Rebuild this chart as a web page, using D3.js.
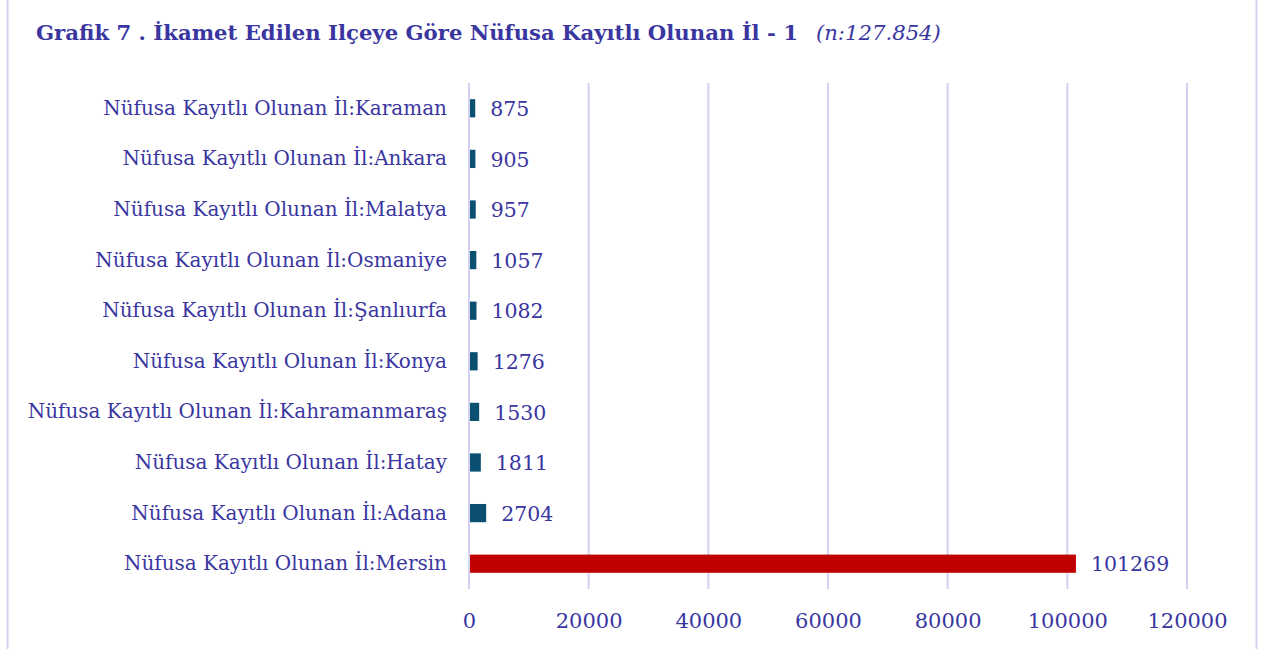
<!DOCTYPE html>
<html>
<head>
<meta charset="utf-8">
<script src="https://cdn.jsdelivr.net/npm/d3@7"></script>
<style>
  body { margin: 0; background: #fff; }
  text { font-family: "DejaVu Serif", "Liberation Serif", serif; fill: #3a369f; }
</style>
</head>
<body>
<div class="chart"></div>
<script>
var svgWidth = 1268;
var svgHeight = 649;

// data (top to bottom)
var provinces = ["Karaman", "Ankara", "Malatya", "Osmaniye", "Şanlıurfa",
  "Konya", "Kahramanmaraş", "Hatay", "Adana", "Mersin"];
var counts = [875, 905, 957, 1057, 1082, 1276, 1530, 1811, 2704, 101269];
var xTicks = [0, 20000, 40000, 60000, 80000, 100000, 120000];

var labelPrefix = "Nüfusa Kayıtlı Olunan İl:";

var margin = { top: 83, right: 81, bottom: 60, left: 469 };
var width = 1187 - margin.left;   // 0..120000
var height = 589 - margin.top;

var svg = d3.select(".chart")
  .append("svg")
  .attr("width", svgWidth)
  .attr("height", svgHeight);

// outer frame
svg.append("rect")
  .attr("x", 7.5)
  .attr("y", -1)
  .attr("width", 1249)
  .attr("height", svgHeight + 5)
  .attr("fill", "none")
  .attr("stroke", "#d3d2f0")
  .attr("stroke-width", 2);

// title
var title = svg.append("text")
  .attr("x", 36)
  .attr("y", 40)
  .style("font-size", "21.2px");
title.append("tspan")
  .style("font-weight", "bold")
  .text("Grafik 7 . İkamet Edilen Ilçeye Göre Nüfusa Kayıtlı Olunan İl - 1");
title.append("tspan")
  .attr("dx", 18)
  .style("font-style", "italic")
  .style("font-weight", "normal")
  .text("(n:127.854)");

var chartGroup = svg.append("g")
  .attr("transform", `translate(${margin.left}, ${margin.top})`);

var xScale = d3.scaleLinear()
  .domain([0, 120000])
  .range([0, width]);

var yScale = d3.scaleBand()
  .domain(provinces)
  .range([0, height])
  .paddingInner(0.64)
  .paddingOuter(0.32);

// gridlines
chartGroup.append("g")
  .selectAll("line")
  .data(xTicks)
  .enter()
  .append("line")
  .attr("x1", d => xScale(d))
  .attr("x2", d => xScale(d))
  .attr("y1", 0)
  .attr("y2", height)
  .attr("stroke", "#d3d2f0")
  .attr("stroke-width", 2);

// x axis tick labels
var bottomAxis = d3.axisBottom(xScale)
  .tickValues(xTicks)
  .tickSize(0)
  .tickPadding(24)
  .tickFormat(d3.format("d"));

var xAxis = chartGroup.append("g")
  .attr("transform", `translate(0, ${height})`)
  .call(bottomAxis);
xAxis.select(".domain").remove();
xAxis.selectAll("text")
  .style("font-family", "\"DejaVu Serif\", serif")
  .style("font-size", "21px")
  .style("fill", "#3a369f");

// y axis labels
var leftAxis = d3.axisLeft(yScale)
  .tickSize(0)
  .tickPadding(22)
  .tickFormat(d => labelPrefix + d);

var yAxis = chartGroup.append("g").call(leftAxis);
yAxis.select(".domain").remove();
yAxis.selectAll("text")
  .style("font-family", "\"DejaVu Serif\", serif")
  .style("font-size", "20px")
  .style("fill", "#3a369f");

// bars
chartGroup.selectAll("rect.bar")
  .data(provinces)
  .enter()
  .append("rect")
  .attr("class", "bar")
  .attr("x", xScale(0) + 1)
  .attr("y", d => yScale(d))
  .attr("width", (d, i) => xScale(counts[i]) - xScale(0))
  .attr("height", yScale.bandwidth())
  .attr("fill", d => d == "Mersin" ? "#c00000" : "#0b4f71");

// value labels
chartGroup.selectAll("text.value")
  .data(provinces)
  .enter()
  .append("text")
  .attr("class", "value")
  .attr("x", (d, i) => xScale(counts[i]) + 16)
  .attr("y", d => yScale(d) + yScale.bandwidth() / 2)
  .attr("dy", "0.38em")
  .style("font-size", "20.5px")
  .text((d, i) => counts[i]);
</script>
</body>
</html>
